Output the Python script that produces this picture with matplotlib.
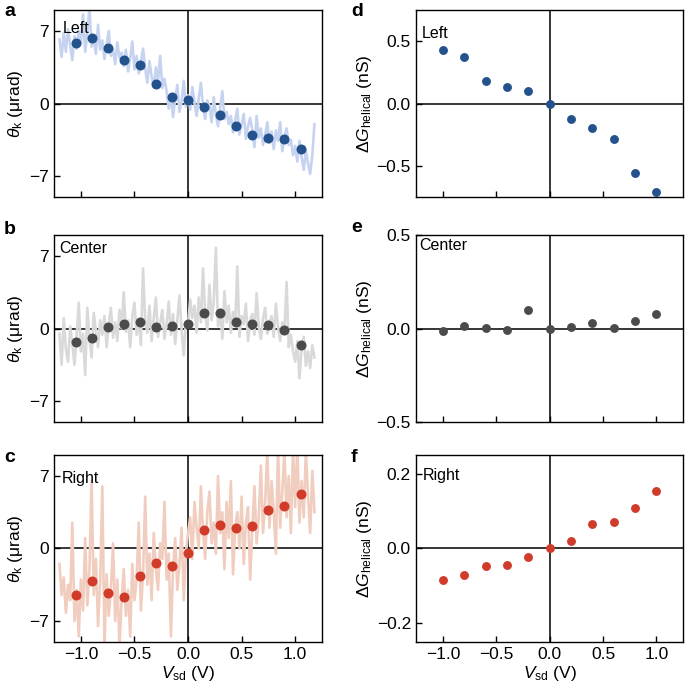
import matplotlib
matplotlib.use("Agg")
import matplotlib.pyplot as plt
import numpy as np

plt.rcParams["font.family"] = ["Liberation Sans", "DejaVu Sans"]
plt.rcParams["mathtext.fontset"] = "custom"
plt.rcParams["mathtext.rm"] = "Liberation Sans"
plt.rcParams["mathtext.it"] = "Liberation Sans:italic"
plt.rcParams["axes.unicode_minus"] = True

# Kerr rotation, averaged points (V, urad)
v_kerr = [-1.05, -0.9, -0.75, -0.6, -0.45, -0.3, -0.15, 0.0,
          0.15, 0.3, 0.45, 0.6, 0.75, 0.9, 1.05]
kerr_left = [5.8, 6.3, 5.4, 4.2, 3.7, 1.9, 0.6, 0.3,
             -0.3, -1.1, -2.2, -3.0, -3.3, -3.4, -4.4]
kerr_center = [-1.3, -0.9, 0.1, 0.4, 0.6, 0.1, 0.2, 0.4,
               1.5, 1.5, 0.6, 0.4, 0.3, -0.1, -1.6]
kerr_right = [-4.5, -3.1, -4.3, -4.7, -2.7, -1.4, -1.7, -0.4,
              1.8, 2.3, 2.0, 2.2, 3.7, 4.1, 5.3]

# raw Kerr sweeps, -1.20 V to 1.18 V in 0.02 V steps
v_raw = np.round(np.arange(-1.20, 1.19, 0.02), 2)
raw_left = [6.2, 4.5, 6.8, 5.0, 7.2, 5.6, 4.2, 6.5, 5.3, 7.0,
            5.8, 8.6, 5.0, 6.9, 9.2, 5.5, 6.4, 4.8, 7.6, 5.2,
            6.1, 4.3, 5.7, 7.0, 4.6, 5.2, 3.8, 5.9, 4.4, 4.9,
            3.6, 5.2, 3.1, 4.4, 6.0, 3.3, 4.6, 2.9, 4.0, 5.3,
            3.4, 2.0, 4.1, 2.6, 1.6, 3.5, 2.2, 4.6, 1.5, 2.4,
            1.2, -0.5, 0.8, -1.3, 0.4, 1.8, -0.8, 0.2, 2.2, -0.3,
            0.8, -0.6, 1.6, 0.1, -1.2, 0.5, 2.0, -0.4, -1.5, 0.3,
            -0.2, -1.8, 0.6, -1.1, -2.2, -0.4, 1.2, -1.5, -0.8, -2.0,
            -1.2, -2.8, -1.6, -0.5, -3.0, -2.0, -1.0, -3.4, -2.2, -1.4,
            -2.6, -4.2, -1.2, -3.3, -2.4, -4.0, -3.0, -1.8, -3.8, -2.7,
            -4.4, -2.6, -3.6, -1.8, -4.6, -3.2, -2.4, -4.0, -3.5, -5.0,
            -4.1, -5.6, -3.6, -5.2, -6.4, -4.5, -5.8, -6.8, -5.0, -2.0]
raw_center = [-0.5, -3.5, 1.0, -2.0, -3.2, 0.2, -1.5, -3.5, -0.8, 2.5,
              -2.2, -0.5, -4.5, 2.0, -1.0, -2.8, 1.5, -0.2, -1.8, 0.8,
              -0.6, 1.2, -1.8, 0.4, 2.0, -0.9, 0.6, -1.2, 1.8, 0.0,
              3.5, -0.3, 0.8, -1.8, 1.2, 2.5, -0.6, 0.9, -1.6, 5.8,
              0.8, -0.4, 2.2, -1.2, 1.0, 3.0, -0.8, 0.5, 1.8, -1.0,
              0.4, 2.6, -0.6, 1.4, -1.5, 0.8, 3.2, -0.2, -2.6, 0.6,
              0.4, 2.8, 1.0, 2.2, -0.4, 3.0, 0.6, 5.8, 1.4, -0.2,
              4.2, 0.8, 2.6, 7.8, 0.2, 1.8, -1.0, 3.6, 0.6, 2.2,
              -0.4, 1.6, 0.2, 6.0, -0.8, 1.2, 0.4, 2.4, -1.2, 0.8,
              1.4, -0.6, 3.4, 0.2, -1.0, 1.0, 2.0, -0.5, 0.6, 1.2,
              -0.8, 2.4, 0.2, -1.2, 0.6, -0.4, 4.5, -1.8, -0.6, -2.2,
              -3.2, -1.2, -4.8, -2.0, -0.8, -3.6, -2.2, -3.8, -1.6, -2.8]
raw_right = [-1.5, -4.5, -2.8, -6.2, -3.5, -5.0, 2.5, -7.0, -4.0, -8.5,
             -3.0, -6.0, 1.0, -5.5, -2.0, 6.5, -4.5, -1.0, -7.5, -3.2,
             6.0, -9.5, -2.5, -6.5, -4.0, 0.5, -7.0, -3.0, -9.5, -5.0,
             -2.0, -6.5, -4.0, -8.5, -1.5, -5.0, -3.0, 2.5, -6.0, -2.5,
             5.0, -3.5, -0.5, -5.0, 1.5, -2.0, -4.0, 0.5, -1.0, 4.5,
             -3.0, -0.5, -8.5, -2.0, 1.0, -4.0, -1.5, 2.0, -5.0, -0.5,
             1.5, 3.0, -1.0, 4.5, 2.0, 0.0, 6.0, 1.5, -1.0, 3.5,
             5.5, 0.5, 2.5, -0.5, 7.0, 1.5, 3.5, -2.0, 4.5, 1.0,
             6.5, -2.5, 2.0, 3.5, 0.0, 5.0, -1.5, 2.5, 4.0, -3.0,
             2.0, 6.0, 0.5, 3.0, 8.0, 1.5, 4.5, 9.5, 2.0, 6.5,
             3.5, -0.5, 10.0, 2.0, 5.5, 9.5, 3.0, 7.0, 1.5, 9.8,
             4.0, 10.0, 2.5, 6.5, 3.0, 9.5, 5.0, 1.5, 7.5, 3.5]

# helical conductance change (V, nS)
v_cond = [-1.0, -0.8, -0.6, -0.4, -0.2, 0.0, 0.2, 0.4, 0.6, 0.8, 1.0]
dg_left = [0.433, 0.374, 0.182, 0.134, 0.104, 0.0,
           -0.126, -0.193, -0.283, -0.559, -0.711]
dg_center = [-0.011, 0.012, 0.005, -0.009, 0.100, 0.0,
             0.009, 0.030, 0.005, 0.039, 0.080]
dg_right = [-0.084, -0.071, -0.046, -0.043, -0.022, 0.0,
            0.020, 0.066, 0.072, 0.109, 0.154]

labels = ["Left", "Center", "Right"]
dot_cols = ["#24528c", "#4b4b4b", "#d13b2a"]
raw_cols = ["#c5d3f1", "#d9d9d9", "#f1cdbf"]

fig = plt.figure(figsize=(6.85, 6.88), dpi=100)

bottoms = [0.714, 0.387, 0.0673]
h = 0.271
left_ax = [fig.add_axes([0.079, b, 0.391, h]) for b in bottoms]
right_ax = [fig.add_axes([0.608, b, 0.389, h]) for b in bottoms]

kerr = [kerr_left, kerr_center, kerr_right]
raws = [raw_left, raw_center, raw_right]
dgs = [dg_left, dg_center, dg_right]
dg_lims = [(-0.75, 0.75), (-0.5, 0.5), (-0.25, 0.25)]
dg_ticks = [[-0.5, 0, 0.5], [-0.5, 0, 0.5], [-0.2, 0, 0.2]]
lab_pos_l = [(0.034, 0.945), (0.019, 0.968), (0.03, 0.918)]
lab_pos_r = [(0.02, 0.918), (0.01, 0.988), (0.024, 0.93)]
fs = 12.5


def style(ax):
    ax.set_xlim(-1.25, 1.25)
    ax.set_xticks([-1.0, -0.5, 0.0, 0.5, 1.0])
    ax.tick_params(direction="in", length=4, width=1, labelsize=fs, pad=4)
    for s in ax.spines.values():
        s.set_linewidth(1)
    ax.axhline(0, color="black", lw=1.1, zorder=1)
    ax.axvline(0, color="black", lw=1.1, zorder=1)


for i in range(3):
    ax = left_ax[i]
    style(ax)
    ax.plot(v_raw, raws[i], color=raw_cols[i], lw=1.9, zorder=2)
    ax.plot(v_kerr, kerr[i], "o", color=dot_cols[i], ms=7.2, mec="none", zorder=3)
    ax.set_ylim(-9, 9)
    ax.set_yticks([-7, 0, 7])
    ax.set_yticklabels(["\u22127", "0", "7"])
    ax.set_ylabel(r"$\theta_{\mathrm{k}}$ ($\mathrm{\mu}$rad)", fontsize=fs, labelpad=3)
    ax.text(*lab_pos_l[i], labels[i], transform=ax.transAxes, fontsize=11.5,
            ha="left", va="top")

    ax = right_ax[i]
    style(ax)
    ax.plot(v_cond, dgs[i], "o", color=dot_cols[i], ms=6.4, mec="none", zorder=3,
            clip_on=False)
    ax.set_ylim(*dg_lims[i])
    ax.set_yticks(dg_ticks[i])
    ax.set_yticklabels([("\u2212%.1f" % -t) if t < 0 else "%.1f" % t for t in dg_ticks[i]])
    ax.set_ylabel("$\\mathit{\u0394G}_{\\mathrm{helical}}$ (nS)", fontsize=fs, labelpad=2)
    ax.text(*lab_pos_r[i], labels[i], transform=ax.transAxes, fontsize=11.5,
            ha="left", va="top")

for ax in left_ax[:2] + right_ax[:2]:
    ax.set_xticklabels([])
for ax in [left_ax[2], right_ax[2]]:
    ax.set_xticklabels(["\u22121.0", "\u22120.5", "0.0", "0.5", "1.0"])
    ax.set_xlabel(r"$V_{\mathrm{sd}}$ (V)", fontsize=fs, labelpad=1)

letters = ["a", "b", "c", "d", "e", "f"]
letter_xy = [(4, 12), (4, 229), (4, 458), (351, 12), (351, 227), (351, 458)]
for let, (px, py) in zip(letters, letter_xy):
    fig.text(px / 685, 1 - py / 688, let, fontsize=14, fontweight="bold",
             ha="left", va="center")

fig.savefig("out.png", dpi=100)
